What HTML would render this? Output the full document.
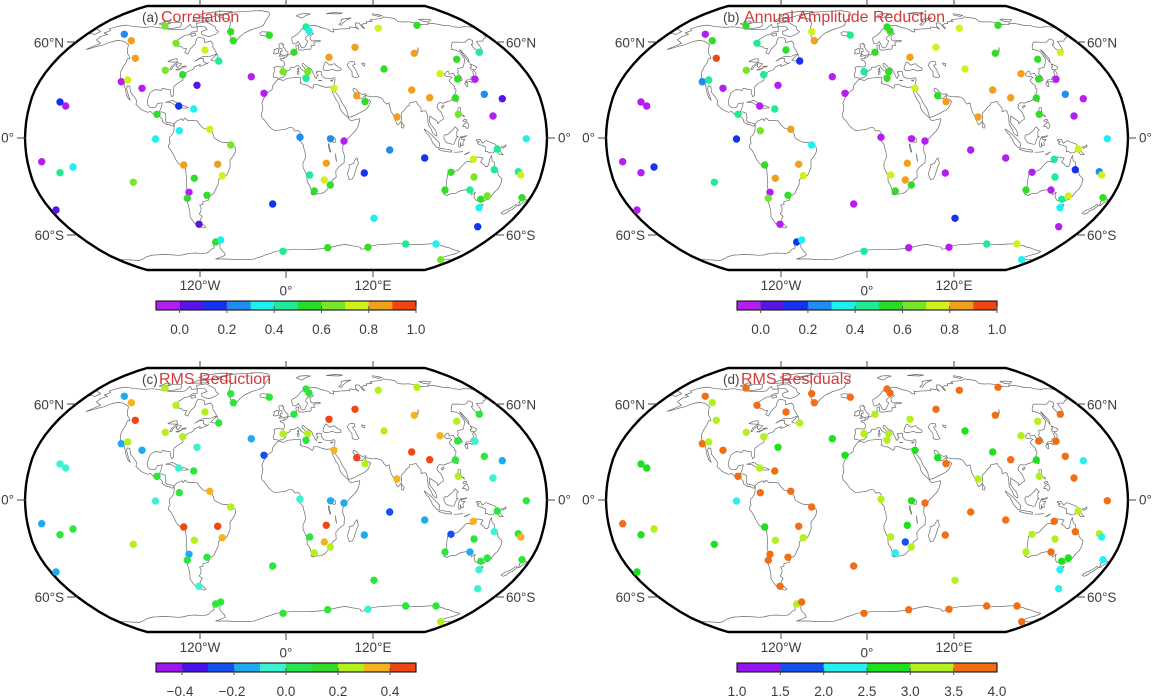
<!DOCTYPE html>
<html><head><meta charset="utf-8"><style>
html,body{margin:0;padding:0;background:#fff;width:1155px;height:700px;overflow:hidden}
svg{display:block}
text{font-family:"Liberation Sans",Arial,sans-serif;fill:#3c3c3c;font-size:13.5px}
.tt{font-size:16px;fill:#d23a3a}
.tl{font-size:13.5px;fill:#444}
.pa .P,.pb .P{fill:#b41ef0}.pa .I,.pb .I{fill:#5a14e6}.pa .B,.pb .B{fill:#1432f0}.pa .D,.pb .D{fill:#1e8cf0}
.pa .C,.pb .C{fill:#1ef0f0}.pa .T,.pb .T{fill:#1eeb96}.pa .G,.pb .G{fill:#32dc28}.pa .L,.pb .L{fill:#78e628}
.pa .Y,.pb .Y{fill:#d2f01e}.pa .O,.pb .O{fill:#f0a01e}.pa .R,.pb .R{fill:#f04614}
.pc .P{fill:#a014f0}.pc .I{fill:#4614e6}.pc .B{fill:#1450f0}.pc .D{fill:#1eaaf0}.pc .A{fill:#3cf0d2}
.pc .G{fill:#2de63c}.pc .L{fill:#b4f01e}.pc .O{fill:#f5b41e}.pc .R{fill:#f04614}
.pd .B{fill:#1450f0}.pd .C{fill:#28f0f0}.pd .G{fill:#1ee11e}.pd .L{fill:#b4f01e}.pd .O{fill:#f06e14}
</style></head><body>
<svg xmlns="http://www.w3.org/2000/svg" xmlns:xlink="http://www.w3.org/1999/xlink" width="1155" height="700" viewBox="0 0 1155 700">
<defs>
<path id="coast" fill="none" stroke="#6a6a6a" stroke-width="0.7" stroke-linejoin="round" d="M0,0"/>
<path id="frame" fill="none" stroke="#000" stroke-width="2.4" stroke-linejoin="round" d="M147.1,5.5 L424.9,5.5 L435.3,8.7 L448.2,13.5 L461.7,19.5 L473.6,26.2 L484.3,33.2 L494.4,40.5 L503.9,48.1 L512.5,56 L519.9,64 L526.5,72.1 L532,80.2 L536.6,88.4 L540,96.6 L542.4,104.8 L544.4,112.9 L545.8,121.1 L546.6,129.3 L547,137.5 L546.6,145.7 L545.8,153.9 L544.4,162.1 L542.4,170.2 L540,178.4 L536.6,186.6 L532,194.8 L526.5,202.9 L519.9,211 L512.5,219 L503.9,226.9 L494.4,234.5 L484.3,241.8 L473.6,248.8 L461.7,255.5 L448.2,261.5 L435.3,266.3 L424.9,269.5 L147.1,269.5 L136.7,266.3 L123.8,261.5 L110.3,255.5 L98.4,248.8 L87.7,241.8 L77.6,234.5 L68.1,226.9 L59.5,219 L52.1,211 L45.5,202.9 L40,194.8 L35.4,186.6 L32,178.4 L29.6,170.2 L27.6,162.1 L26.2,153.9 L25.4,145.7 L25,137.5 L25.4,129.3 L26.2,121.1 L27.6,112.9 L29.6,104.8 L32,96.6 L35.4,88.4 L40,80.2 L45.5,72.1 L52.1,64 L59.5,56 L68.1,48.1 L77.6,40.5 L87.7,33.2 L98.4,26.2 L110.3,19.5 L123.8,13.5 L136.7,8.7 Z"/>
<path id="ticks" fill="none" stroke="#444" stroke-width="1" d="M67,42H76 M17,138H25.5 M67,235H77 M495,42H504 M546.5,138H555 M495,235H504 M200,-1V6 M286,-1V6.5 M373,-1V6 M200,270V277 M286,270V278 M373,270V277"/>
</defs>

<!-- PANEL A -->
<g class="pa">
<use href="#coast" xlink:href="#coast"/>
<use href="#frame" xlink:href="#frame" transform="translate(0,0.5)"/>
<use href="#ticks" xlink:href="#ticks"/>
<text x="64" y="47.5" text-anchor="end">60°N</text><text x="14" y="142.5" text-anchor="end">0°</text><text x="64" y="240" text-anchor="end">60°S</text>
<text x="506" y="47.5">60°N</text><text x="558" y="142.5">0°</text><text x="506" y="240">60°S</text>
<text x="200" y="290" text-anchor="middle">120°W</text><text x="286" y="295.5" text-anchor="middle">0°</text><text x="373" y="290" text-anchor="middle">120°E</text>
<text class="tl" x="142" y="22">(a)</text><text class="tt" x="161" y="22">Correlation</text>
<circle class="D" cx="124.3" cy="34.3" r="3.7"/><circle class="O" cx="131.3" cy="40.7" r="3.7"/><circle class="O" cx="135.3" cy="58.3" r="3.7"/><circle class="L" cx="165" cy="26" r="3.7"/><circle class="L" cx="176" cy="43.3" r="3.7"/><circle class="Y" cx="205" cy="50" r="3.7"/><circle class="G" cx="230.7" cy="31.7" r="3.7"/><circle class="G" cx="233.3" cy="40.7" r="3.7"/><circle class="G" cx="269.3" cy="35.3" r="3.7"/><circle class="T" cx="218.7" cy="61" r="3.7"/><circle class="L" cx="165.3" cy="70.3" r="3.7"/><circle class="G" cx="182.7" cy="74.7" r="3.7"/><circle class="P" cx="121.3" cy="81.7" r="3.7"/><circle class="Y" cx="127.7" cy="80" r="3.7"/><circle class="P" cx="142" cy="88.3" r="3.7"/><circle class="I" cx="197" cy="85.3" r="3.7"/><circle class="P" cx="251.3" cy="76.7" r="3.7"/><circle class="P" cx="264" cy="93.3" r="3.7"/><circle class="L" cx="283" cy="71.7" r="3.7"/><circle class="B" cx="60" cy="102" r="3.7"/><circle class="P" cx="65.7" cy="106" r="3.7"/><circle class="B" cx="178.7" cy="106" r="3.7"/><circle class="C" cx="193.7" cy="109" r="3.7"/><circle class="G" cx="157" cy="114.3" r="3.7"/><circle class="C" cx="179.3" cy="130.7" r="3.7"/><circle class="Y" cx="209.7" cy="129.3" r="3.7"/><circle class="C" cx="155.5" cy="139" r="3.7"/><circle class="T" cx="306" cy="27" r="3.7"/><circle class="C" cx="309" cy="31" r="3.7"/><circle class="Y" cx="378.3" cy="28.3" r="3.7"/><circle class="G" cx="417" cy="25.3" r="3.7"/><circle class="O" cx="355" cy="47.3" r="3.7"/><circle class="O" cx="414.3" cy="53.3" r="3.7"/><circle class="G" cx="294" cy="52.3" r="3.7"/><circle class="O" cx="329" cy="57.3" r="3.7"/><circle class="T" cx="479.3" cy="52.3" r="3.7"/><circle class="G" cx="456.7" cy="59.3" r="3.7"/><circle class="G" cx="384" cy="69" r="3.7"/><circle class="Y" cx="440" cy="73.7" r="3.7"/><circle class="G" cx="457.7" cy="79" r="3.7"/><circle class="P" cx="475" cy="79.3" r="3.7"/><circle class="L" cx="307.7" cy="71.7" r="3.7"/><circle class="T" cx="306" cy="78.3" r="3.7"/><circle class="Y" cx="334" cy="88.3" r="3.7"/><circle class="O" cx="356.7" cy="95.7" r="3.7"/><circle class="G" cx="365" cy="101.7" r="3.7"/><circle class="O" cx="411.7" cy="90" r="3.7"/><circle class="O" cx="429.7" cy="97.7" r="3.7"/><circle class="G" cx="455.3" cy="98" r="3.7"/><circle class="D" cx="484.3" cy="94.3" r="3.7"/><circle class="I" cx="502.3" cy="98.7" r="3.7"/><circle class="O" cx="397" cy="117" r="3.7"/><circle class="L" cx="458.3" cy="114.3" r="3.7"/><circle class="P" cx="493" cy="116" r="3.7"/><circle class="C" cx="526.3" cy="138.8" r="3.7"/><circle class="D" cx="300" cy="137.2" r="3.7"/><circle class="D" cx="330.5" cy="138.8" r="3.7"/><circle class="P" cx="344" cy="141" r="3.7"/>
<circle class="L" cx="230.7" cy="145" r="3.7"/><circle class="P" cx="41.7" cy="161.7" r="3.7"/><circle class="T" cx="60" cy="172.7" r="3.7"/><circle class="C" cx="73" cy="167" r="3.7"/><circle class="L" cx="133.3" cy="182.3" r="3.7"/><circle class="O" cx="183.7" cy="165" r="3.7"/><circle class="O" cx="217.7" cy="164.3" r="3.7"/><circle class="G" cx="194.3" cy="178.3" r="3.7"/><circle class="Y" cx="222.3" cy="175.7" r="3.7"/><circle class="P" cx="189" cy="192.3" r="3.7"/><circle class="G" cx="187.3" cy="198.3" r="3.7"/><circle class="G" cx="207" cy="195.3" r="3.7"/><circle class="I" cx="56" cy="210" r="3.7"/><circle class="B" cx="272.7" cy="204" r="3.7"/><circle class="I" cx="199" cy="224.3" r="3.7"/><circle class="G" cx="215.7" cy="242" r="3.7"/><circle class="C" cx="220.7" cy="240" r="3.7"/><circle class="T" cx="283" cy="251.3" r="3.7"/><circle class="D" cx="389.7" cy="150" r="3.7"/><circle class="B" cx="424.7" cy="158" r="3.7"/><circle class="O" cx="326.3" cy="163.3" r="3.7"/><circle class="B" cx="364.3" cy="173" r="3.7"/><circle class="T" cx="309.7" cy="175" r="3.7"/><circle class="Y" cx="324.3" cy="180" r="3.7"/><circle class="G" cx="330.3" cy="185" r="3.7"/><circle class="G" cx="314.3" cy="191" r="3.7"/><circle class="T" cx="497.3" cy="149" r="3.7"/><circle class="Y" cx="473.3" cy="159.3" r="3.7"/><circle class="G" cx="451" cy="172.3" r="3.7"/><circle class="L" cx="474" cy="177" r="3.7"/><circle class="T" cx="494.3" cy="169.7" r="3.7"/><circle class="T" cx="518.3" cy="171.7" r="3.7"/><circle class="Y" cx="520.7" cy="175" r="3.7"/><circle class="G" cx="445" cy="190" r="3.7"/><circle class="T" cx="470" cy="190" r="3.7"/><circle class="G" cx="480.7" cy="199.3" r="3.7"/><circle class="L" cx="487.3" cy="196" r="3.7"/><circle class="G" cx="522" cy="197.7" r="3.7"/><circle class="C" cx="479" cy="207.7" r="3.7"/><circle class="B" cx="477.7" cy="226.7" r="3.7"/><circle class="C" cx="374" cy="218.3" r="3.7"/><circle class="G" cx="327.7" cy="247.7" r="3.7"/><circle class="G" cx="368" cy="247.3" r="3.7"/><circle class="T" cx="405.7" cy="244" r="3.7"/><circle class="C" cx="436" cy="244" r="3.7"/><circle class="L" cx="440.7" cy="259.7" r="3.7"/>
<g transform="translate(0,301)">
<rect x="156" y="0" width="24.1" height="9" fill="#b41ef0"/><rect x="179.64" y="0" width="24.1" height="9" fill="#5a14e6"/><rect x="203.27" y="0" width="24.1" height="9" fill="#1432f0"/><rect x="226.91" y="0" width="24.1" height="9" fill="#1e8cf0"/><rect x="250.55" y="0" width="24.1" height="9" fill="#1ef0f0"/><rect x="274.18" y="0" width="24.1" height="9" fill="#1eeb96"/><rect x="297.82" y="0" width="24.1" height="9" fill="#28dc28"/><rect x="321.45" y="0" width="24.1" height="9" fill="#78e628"/><rect x="345.09" y="0" width="24.1" height="9" fill="#d2f01e"/><rect x="368.73" y="0" width="24.1" height="9" fill="#f0a01e"/><rect x="392.36" y="0" width="23.64" height="9" fill="#f04614"/>
<rect x="156" y="0" width="260" height="9" fill="none" stroke="#111" stroke-width="1.1"/>
<path d="M179.6,5V12M226.9,5V12M274.2,5V12M321.5,5V12M368.7,5V12M416,5V12" stroke="#555" stroke-width="1"/>
<text x="179.6" y="33" text-anchor="middle">0.0</text><text x="226.9" y="33" text-anchor="middle">0.2</text><text x="274.2" y="33" text-anchor="middle">0.4</text><text x="321.5" y="33" text-anchor="middle">0.6</text><text x="368.7" y="33" text-anchor="middle">0.8</text><text x="416" y="33" text-anchor="middle">1.0</text>
</g>
</g>

<!-- PANEL B -->
<g class="pb" transform="translate(581,0)">
<use href="#coast" xlink:href="#coast"/>
<use href="#frame" xlink:href="#frame" transform="translate(0,0.5)"/>
<use href="#ticks" xlink:href="#ticks"/>
<text x="64" y="47.5" text-anchor="end">60°N</text><text x="14" y="142.5" text-anchor="end">0°</text><text x="64" y="240" text-anchor="end">60°S</text>
<text x="506" y="47.5">60°N</text><text x="558" y="142.5">0°</text><text x="506" y="240">60°S</text>
<text x="200" y="290" text-anchor="middle">120°W</text><text x="286" y="295.5" text-anchor="middle">0°</text><text x="373" y="290" text-anchor="middle">120°E</text>
<text class="tl" x="142" y="22">(b)</text><text class="tt" x="163" y="22">Annual Amplitude Reduction</text>
<circle class="P" cx="124.3" cy="34.3" r="3.7"/><circle class="G" cx="131.3" cy="40.7" r="3.7"/><circle class="R" cx="135.3" cy="58.3" r="3.7"/><circle class="G" cx="165" cy="26" r="3.7"/><circle class="T" cx="176" cy="43.3" r="3.7"/><circle class="G" cx="205" cy="50" r="3.7"/><circle class="Y" cx="230.7" cy="31.7" r="3.7"/><circle class="O" cx="233.3" cy="40.7" r="3.7"/><circle class="T" cx="269.3" cy="35.3" r="3.7"/><circle class="B" cx="218.7" cy="61" r="3.7"/><circle class="L" cx="165.3" cy="70.3" r="3.7"/><circle class="T" cx="182.7" cy="74.7" r="3.7"/><circle class="D" cx="121.3" cy="81.7" r="3.7"/><circle class="T" cx="127.7" cy="80" r="3.7"/><circle class="P" cx="142" cy="88.3" r="3.7"/><circle class="P" cx="197" cy="85.3" r="3.7"/><circle class="P" cx="251.3" cy="76.7" r="3.7"/><circle class="P" cx="264" cy="93.3" r="3.7"/><circle class="T" cx="283" cy="71.7" r="3.7"/><circle class="P" cx="60" cy="102" r="3.7"/><circle class="P" cx="65.7" cy="106" r="3.7"/><circle class="P" cx="178.7" cy="106" r="3.7"/><circle class="T" cx="193.7" cy="109" r="3.7"/><circle class="T" cx="157" cy="114.3" r="3.7"/><circle class="L" cx="179.3" cy="130.7" r="3.7"/><circle class="O" cx="209.7" cy="129.3" r="3.7"/><circle class="B" cx="155.5" cy="139" r="3.7"/><circle class="G" cx="306" cy="27" r="3.7"/><circle class="G" cx="309" cy="31" r="3.7"/><circle class="Y" cx="378.3" cy="28.3" r="3.7"/><circle class="G" cx="417" cy="25.3" r="3.7"/><circle class="Y" cx="355" cy="47.3" r="3.7"/><circle class="G" cx="414.3" cy="53.3" r="3.7"/><circle class="G" cx="294" cy="52.3" r="3.7"/><circle class="O" cx="329" cy="57.3" r="3.7"/><circle class="Y" cx="479.3" cy="52.3" r="3.7"/><circle class="G" cx="456.7" cy="59.3" r="3.7"/><circle class="Y" cx="384" cy="69" r="3.7"/><circle class="O" cx="440" cy="73.7" r="3.7"/><circle class="G" cx="457.7" cy="79" r="3.7"/><circle class="P" cx="475" cy="79.3" r="3.7"/><circle class="G" cx="307.7" cy="71.7" r="3.7"/><circle class="G" cx="306" cy="78.3" r="3.7"/><circle class="Y" cx="334" cy="88.3" r="3.7"/><circle class="G" cx="356.7" cy="95.7" r="3.7"/><circle class="O" cx="365" cy="101.7" r="3.7"/><circle class="O" cx="411.7" cy="90" r="3.7"/><circle class="O" cx="429.7" cy="97.7" r="3.7"/><circle class="G" cx="455.3" cy="98" r="3.7"/><circle class="D" cx="484.3" cy="94.3" r="3.7"/><circle class="P" cx="502.3" cy="98.7" r="3.7"/><circle class="O" cx="397" cy="117" r="3.7"/><circle class="G" cx="458.3" cy="114.3" r="3.7"/><circle class="P" cx="493" cy="116" r="3.7"/><circle class="C" cx="526.3" cy="138.8" r="3.7"/><circle class="P" cx="300" cy="137.2" r="3.7"/><circle class="P" cx="330.5" cy="138.8" r="3.7"/><circle class="P" cx="344" cy="141" r="3.7"/>
<circle class="C" cx="230.7" cy="145" r="3.7"/><circle class="P" cx="41.7" cy="161.7" r="3.7"/><circle class="P" cx="60" cy="172.7" r="3.7"/><circle class="B" cx="73" cy="167" r="3.7"/><circle class="T" cx="133.3" cy="182.3" r="3.7"/><circle class="G" cx="183.7" cy="165" r="3.7"/><circle class="O" cx="217.7" cy="164.3" r="3.7"/><circle class="O" cx="194.3" cy="178.3" r="3.7"/><circle class="Y" cx="222.3" cy="175.7" r="3.7"/><circle class="P" cx="189" cy="192.3" r="3.7"/><circle class="L" cx="187.3" cy="198.3" r="3.7"/><circle class="G" cx="207" cy="195.3" r="3.7"/><circle class="P" cx="56" cy="210" r="3.7"/><circle class="P" cx="272.7" cy="204" r="3.7"/><circle class="P" cx="199" cy="224.3" r="3.7"/><circle class="B" cx="215.7" cy="242" r="3.7"/><circle class="C" cx="220.7" cy="240" r="3.7"/><circle class="T" cx="283" cy="251.3" r="3.7"/><circle class="P" cx="389.7" cy="150" r="3.7"/><circle class="P" cx="424.7" cy="158" r="3.7"/><circle class="O" cx="326.3" cy="163.3" r="3.7"/><circle class="P" cx="364.3" cy="173" r="3.7"/><circle class="Y" cx="309.7" cy="175" r="3.7"/><circle class="O" cx="324.3" cy="180" r="3.7"/><circle class="G" cx="330.3" cy="185" r="3.7"/><circle class="G" cx="314.3" cy="191" r="3.7"/><circle class="Y" cx="497.3" cy="149" r="3.7"/><circle class="T" cx="473.3" cy="159.3" r="3.7"/><circle class="P" cx="451" cy="172.3" r="3.7"/><circle class="T" cx="474" cy="177" r="3.7"/><circle class="B" cx="494.3" cy="169.7" r="3.7"/><circle class="D" cx="518.3" cy="171.7" r="3.7"/><circle class="Y" cx="520.7" cy="175" r="3.7"/><circle class="G" cx="445" cy="190" r="3.7"/><circle class="P" cx="470" cy="190" r="3.7"/><circle class="T" cx="480.7" cy="199.3" r="3.7"/><circle class="Y" cx="487.3" cy="196" r="3.7"/><circle class="G" cx="522" cy="197.7" r="3.7"/><circle class="C" cx="479" cy="207.7" r="3.7"/><circle class="P" cx="477.7" cy="226.7" r="3.7"/><circle class="B" cx="374" cy="218.3" r="3.7"/><circle class="P" cx="327.7" cy="247.7" r="3.7"/><circle class="P" cx="368" cy="247.3" r="3.7"/><circle class="T" cx="405.7" cy="244" r="3.7"/><circle class="Y" cx="436" cy="244" r="3.7"/><circle class="C" cx="440.7" cy="259.7" r="3.7"/>
<g transform="translate(0,301)">
<rect x="156" y="0" width="24.1" height="9" fill="#b41ef0"/><rect x="179.64" y="0" width="24.1" height="9" fill="#5a14e6"/><rect x="203.27" y="0" width="24.1" height="9" fill="#1432f0"/><rect x="226.91" y="0" width="24.1" height="9" fill="#1e8cf0"/><rect x="250.55" y="0" width="24.1" height="9" fill="#1ef0f0"/><rect x="274.18" y="0" width="24.1" height="9" fill="#1eeb96"/><rect x="297.82" y="0" width="24.1" height="9" fill="#28dc28"/><rect x="321.45" y="0" width="24.1" height="9" fill="#78e628"/><rect x="345.09" y="0" width="24.1" height="9" fill="#d2f01e"/><rect x="368.73" y="0" width="24.1" height="9" fill="#f0a01e"/><rect x="392.36" y="0" width="23.64" height="9" fill="#f04614"/>
<rect x="156" y="0" width="260" height="9" fill="none" stroke="#111" stroke-width="1.1"/>
<path d="M179.6,5V12M226.9,5V12M274.2,5V12M321.5,5V12M368.7,5V12M416,5V12" stroke="#555" stroke-width="1"/>
<text x="179.6" y="33" text-anchor="middle">0.0</text><text x="226.9" y="33" text-anchor="middle">0.2</text><text x="274.2" y="33" text-anchor="middle">0.4</text><text x="321.5" y="33" text-anchor="middle">0.6</text><text x="368.7" y="33" text-anchor="middle">0.8</text><text x="416" y="33" text-anchor="middle">1.0</text>
</g>
</g>

<!-- PANEL C -->
<g class="pc" transform="translate(0,362)">
<use href="#coast" xlink:href="#coast"/>
<use href="#frame" xlink:href="#frame" transform="translate(0,0.5)"/>
<use href="#ticks" xlink:href="#ticks"/>
<text x="64" y="47.5" text-anchor="end">60°N</text><text x="14" y="142.5" text-anchor="end">0°</text><text x="64" y="240" text-anchor="end">60°S</text>
<text x="506" y="47.5">60°N</text><text x="558" y="142.5">0°</text><text x="506" y="240">60°S</text>
<text x="200" y="290" text-anchor="middle">120°W</text><text x="286" y="295.5" text-anchor="middle">0°</text><text x="373" y="290" text-anchor="middle">120°E</text>
<text class="tl" x="142" y="22">(c)</text><text class="tt" x="159" y="22">RMS Reduction</text>
<circle class="D" cx="124.3" cy="34.3" r="3.7"/><circle class="O" cx="131.3" cy="40.7" r="3.7"/><circle class="R" cx="135.3" cy="58.3" r="3.7"/><circle class="L" cx="165" cy="26" r="3.7"/><circle class="L" cx="176" cy="43.3" r="3.7"/><circle class="L" cx="205" cy="50" r="3.7"/><circle class="G" cx="230.7" cy="31.7" r="3.7"/><circle class="G" cx="233.3" cy="40.7" r="3.7"/><circle class="G" cx="269.3" cy="35.3" r="3.7"/><circle class="G" cx="218.7" cy="61" r="3.7"/><circle class="L" cx="165.3" cy="70.3" r="3.7"/><circle class="L" cx="182.7" cy="74.7" r="3.7"/><circle class="D" cx="121.3" cy="81.7" r="3.7"/><circle class="L" cx="127.7" cy="80" r="3.7"/><circle class="D" cx="142" cy="88.3" r="3.7"/><circle class="A" cx="197" cy="85.3" r="3.7"/><circle class="D" cx="251.3" cy="76.7" r="3.7"/><circle class="B" cx="264" cy="93.3" r="3.7"/><circle class="L" cx="283" cy="71.7" r="3.7"/><circle class="A" cx="60" cy="102" r="3.7"/><circle class="A" cx="65.7" cy="106" r="3.7"/><circle class="A" cx="178.7" cy="106" r="3.7"/><circle class="G" cx="193.7" cy="109" r="3.7"/><circle class="G" cx="157" cy="114.3" r="3.7"/><circle class="G" cx="179.3" cy="130.7" r="3.7"/><circle class="O" cx="209.7" cy="129.3" r="3.7"/><circle class="A" cx="155.5" cy="139" r="3.7"/><circle class="G" cx="306" cy="27" r="3.7"/><circle class="G" cx="309" cy="31" r="3.7"/><circle class="L" cx="378.3" cy="28.3" r="3.7"/><circle class="L" cx="417" cy="25.3" r="3.7"/><circle class="R" cx="355" cy="47.3" r="3.7"/><circle class="O" cx="414.3" cy="53.3" r="3.7"/><circle class="G" cx="294" cy="52.3" r="3.7"/><circle class="R" cx="329" cy="57.3" r="3.7"/><circle class="G" cx="479.3" cy="52.3" r="3.7"/><circle class="L" cx="456.7" cy="59.3" r="3.7"/><circle class="L" cx="384" cy="69" r="3.7"/><circle class="O" cx="440" cy="73.7" r="3.7"/><circle class="G" cx="457.7" cy="79" r="3.7"/><circle class="A" cx="475" cy="79.3" r="3.7"/><circle class="L" cx="307.7" cy="71.7" r="3.7"/><circle class="G" cx="306" cy="78.3" r="3.7"/><circle class="O" cx="334" cy="88.3" r="3.7"/><circle class="R" cx="356.7" cy="95.7" r="3.7"/><circle class="L" cx="365" cy="101.7" r="3.7"/><circle class="R" cx="411.7" cy="90" r="3.7"/><circle class="R" cx="429.7" cy="97.7" r="3.7"/><circle class="G" cx="455.3" cy="98" r="3.7"/><circle class="G" cx="484.3" cy="94.3" r="3.7"/><circle class="D" cx="502.3" cy="98.7" r="3.7"/><circle class="O" cx="397" cy="117" r="3.7"/><circle class="L" cx="458.3" cy="114.3" r="3.7"/><circle class="A" cx="493" cy="116" r="3.7"/><circle class="G" cx="526.3" cy="138.8" r="3.7"/><circle class="A" cx="300" cy="137.2" r="3.7"/><circle class="D" cx="330.5" cy="138.8" r="3.7"/><circle class="D" cx="344" cy="141" r="3.7"/>
<circle class="L" cx="230.7" cy="145" r="3.7"/><circle class="D" cx="41.7" cy="161.7" r="3.7"/><circle class="G" cx="60" cy="172.7" r="3.7"/><circle class="G" cx="73" cy="167" r="3.7"/><circle class="L" cx="133.3" cy="182.3" r="3.7"/><circle class="R" cx="183.7" cy="165" r="3.7"/><circle class="R" cx="217.7" cy="164.3" r="3.7"/><circle class="L" cx="194.3" cy="178.3" r="3.7"/><circle class="O" cx="222.3" cy="175.7" r="3.7"/><circle class="D" cx="189" cy="192.3" r="3.7"/><circle class="G" cx="187.3" cy="198.3" r="3.7"/><circle class="G" cx="207" cy="195.3" r="3.7"/><circle class="D" cx="56" cy="210" r="3.7"/><circle class="G" cx="272.7" cy="204" r="3.7"/><circle class="A" cx="199" cy="224.3" r="3.7"/><circle class="G" cx="215.7" cy="242" r="3.7"/><circle class="G" cx="220.7" cy="240" r="3.7"/><circle class="G" cx="283" cy="251.3" r="3.7"/><circle class="B" cx="389.7" cy="150" r="3.7"/><circle class="D" cx="424.7" cy="158" r="3.7"/><circle class="R" cx="326.3" cy="163.3" r="3.7"/><circle class="D" cx="364.3" cy="173" r="3.7"/><circle class="G" cx="309.7" cy="175" r="3.7"/><circle class="O" cx="324.3" cy="180" r="3.7"/><circle class="L" cx="330.3" cy="185" r="3.7"/><circle class="L" cx="314.3" cy="191" r="3.7"/><circle class="G" cx="497.3" cy="149" r="3.7"/><circle class="O" cx="473.3" cy="159.3" r="3.7"/><circle class="B" cx="451" cy="172.3" r="3.7"/><circle class="G" cx="474" cy="177" r="3.7"/><circle class="A" cx="494.3" cy="169.7" r="3.7"/><circle class="G" cx="518.3" cy="171.7" r="3.7"/><circle class="O" cx="520.7" cy="175" r="3.7"/><circle class="G" cx="445" cy="190" r="3.7"/><circle class="D" cx="470" cy="190" r="3.7"/><circle class="G" cx="480.7" cy="199.3" r="3.7"/><circle class="G" cx="487.3" cy="196" r="3.7"/><circle class="G" cx="522" cy="197.7" r="3.7"/><circle class="A" cx="479" cy="207.7" r="3.7"/><circle class="A" cx="477.7" cy="226.7" r="3.7"/><circle class="G" cx="374" cy="218.3" r="3.7"/><circle class="G" cx="327.7" cy="247.7" r="3.7"/><circle class="A" cx="368" cy="247.3" r="3.7"/><circle class="G" cx="405.7" cy="244" r="3.7"/><circle class="G" cx="436" cy="244" r="3.7"/><circle class="L" cx="440.7" cy="259.7" r="3.7"/>
<g transform="translate(0,301)">
<rect x="156" y="0" width="26.5" height="9" fill="#a014f0"/><rect x="182" y="0" width="26.5" height="9" fill="#4614e6"/><rect x="208" y="0" width="26.5" height="9" fill="#1450f0"/><rect x="234" y="0" width="26.5" height="9" fill="#1eaaf0"/><rect x="260" y="0" width="26.5" height="9" fill="#3cf0d2"/><rect x="286" y="0" width="26.5" height="9" fill="#28e650"/><rect x="312" y="0" width="26.5" height="9" fill="#32dc28"/><rect x="338" y="0" width="26.5" height="9" fill="#b4f01e"/><rect x="364" y="0" width="26.5" height="9" fill="#f5b41e"/><rect x="390" y="0" width="26" height="9" fill="#f04614"/>
<rect x="156" y="0" width="260" height="9" fill="none" stroke="#111" stroke-width="1.1"/>
<path d="M182,5V12M234,5V12M286,5V12M338,5V12M390,5V12" stroke="#555" stroke-width="1"/>
<text x="180" y="33" text-anchor="middle">−0.4</text><text x="232" y="33" text-anchor="middle">−0.2</text><text x="286" y="33" text-anchor="middle">0.0</text><text x="338" y="33" text-anchor="middle">0.2</text><text x="390" y="33" text-anchor="middle">0.4</text>
</g>
</g>

<!-- PANEL D -->
<g class="pd" transform="translate(581,362)">
<use href="#coast" xlink:href="#coast"/>
<use href="#frame" xlink:href="#frame" transform="translate(0,0.5)"/>
<use href="#ticks" xlink:href="#ticks"/>
<text x="64" y="47.5" text-anchor="end">60°N</text><text x="14" y="142.5" text-anchor="end">0°</text><text x="64" y="240" text-anchor="end">60°S</text>
<text x="506" y="47.5">60°N</text><text x="558" y="142.5">0°</text><text x="506" y="240">60°S</text>
<text x="200" y="290" text-anchor="middle">120°W</text><text x="286" y="295.5" text-anchor="middle">0°</text><text x="373" y="290" text-anchor="middle">120°E</text>
<text class="tl" x="142" y="22">(d)</text><text class="tt" x="160" y="22">RMS Residuals</text>
<circle class="O" cx="124.3" cy="34.3" r="3.7"/><circle class="L" cx="131.3" cy="40.7" r="3.7"/><circle class="L" cx="135.3" cy="58.3" r="3.7"/><circle class="O" cx="165" cy="26" r="3.7"/><circle class="O" cx="176" cy="43.3" r="3.7"/><circle class="O" cx="205" cy="50" r="3.7"/><circle class="O" cx="230.7" cy="31.7" r="3.7"/><circle class="O" cx="233.3" cy="40.7" r="3.7"/><circle class="O" cx="269.3" cy="35.3" r="3.7"/><circle class="L" cx="218.7" cy="61" r="3.7"/><circle class="L" cx="165.3" cy="70.3" r="3.7"/><circle class="L" cx="182.7" cy="74.7" r="3.7"/><circle class="O" cx="121.3" cy="81.7" r="3.7"/><circle class="L" cx="127.7" cy="80" r="3.7"/><circle class="O" cx="142" cy="88.3" r="3.7"/><circle class="G" cx="197" cy="85.3" r="3.7"/><circle class="G" cx="251.3" cy="76.7" r="3.7"/><circle class="G" cx="264" cy="93.3" r="3.7"/><circle class="L" cx="283" cy="71.7" r="3.7"/><circle class="G" cx="60" cy="102" r="3.7"/><circle class="G" cx="65.7" cy="106" r="3.7"/><circle class="L" cx="178.7" cy="106" r="3.7"/><circle class="O" cx="193.7" cy="109" r="3.7"/><circle class="O" cx="157" cy="114.3" r="3.7"/><circle class="O" cx="179.3" cy="130.7" r="3.7"/><circle class="O" cx="209.7" cy="129.3" r="3.7"/><circle class="C" cx="155.5" cy="139" r="3.7"/><circle class="O" cx="306" cy="27" r="3.7"/><circle class="O" cx="309" cy="31" r="3.7"/><circle class="O" cx="378.3" cy="28.3" r="3.7"/><circle class="O" cx="417" cy="25.3" r="3.7"/><circle class="O" cx="355" cy="47.3" r="3.7"/><circle class="O" cx="414.3" cy="53.3" r="3.7"/><circle class="L" cx="294" cy="52.3" r="3.7"/><circle class="L" cx="329" cy="57.3" r="3.7"/><circle class="O" cx="479.3" cy="52.3" r="3.7"/><circle class="L" cx="456.7" cy="59.3" r="3.7"/><circle class="G" cx="384" cy="69" r="3.7"/><circle class="L" cx="440" cy="73.7" r="3.7"/><circle class="O" cx="457.7" cy="79" r="3.7"/><circle class="O" cx="475" cy="79.3" r="3.7"/><circle class="L" cx="307.7" cy="71.7" r="3.7"/><circle class="L" cx="306" cy="78.3" r="3.7"/><circle class="G" cx="334" cy="88.3" r="3.7"/><circle class="G" cx="356.7" cy="95.7" r="3.7"/><circle class="O" cx="365" cy="101.7" r="3.7"/><circle class="G" cx="411.7" cy="90" r="3.7"/><circle class="O" cx="429.7" cy="97.7" r="3.7"/><circle class="G" cx="455.3" cy="98" r="3.7"/><circle class="O" cx="484.3" cy="94.3" r="3.7"/><circle class="C" cx="502.3" cy="98.7" r="3.7"/><circle class="L" cx="397" cy="117" r="3.7"/><circle class="L" cx="458.3" cy="114.3" r="3.7"/><circle class="O" cx="493" cy="116" r="3.7"/><circle class="O" cx="526.3" cy="138.8" r="3.7"/><circle class="L" cx="300" cy="137.2" r="3.7"/><circle class="G" cx="330.5" cy="138.8" r="3.7"/><circle class="O" cx="344" cy="141" r="3.7"/>
<circle class="O" cx="230.7" cy="145" r="3.7"/><circle class="O" cx="41.7" cy="161.7" r="3.7"/><circle class="G" cx="60" cy="172.7" r="3.7"/><circle class="L" cx="73" cy="167" r="3.7"/><circle class="G" cx="133.3" cy="182.3" r="3.7"/><circle class="G" cx="183.7" cy="165" r="3.7"/><circle class="O" cx="217.7" cy="164.3" r="3.7"/><circle class="L" cx="194.3" cy="178.3" r="3.7"/><circle class="L" cx="222.3" cy="175.7" r="3.7"/><circle class="O" cx="189" cy="192.3" r="3.7"/><circle class="O" cx="187.3" cy="198.3" r="3.7"/><circle class="O" cx="207" cy="195.3" r="3.7"/><circle class="G" cx="56" cy="210" r="3.7"/><circle class="O" cx="272.7" cy="204" r="3.7"/><circle class="O" cx="199" cy="224.3" r="3.7"/><circle class="L" cx="215.7" cy="242" r="3.7"/><circle class="O" cx="220.7" cy="240" r="3.7"/><circle class="O" cx="283" cy="251.3" r="3.7"/><circle class="O" cx="389.7" cy="150" r="3.7"/><circle class="O" cx="424.7" cy="158" r="3.7"/><circle class="G" cx="326.3" cy="163.3" r="3.7"/><circle class="O" cx="364.3" cy="173" r="3.7"/><circle class="L" cx="309.7" cy="175" r="3.7"/><circle class="B" cx="324.3" cy="180" r="3.7"/><circle class="L" cx="330.3" cy="185" r="3.7"/><circle class="C" cx="314.3" cy="191" r="3.7"/><circle class="L" cx="497.3" cy="149" r="3.7"/><circle class="O" cx="473.3" cy="159.3" r="3.7"/><circle class="L" cx="451" cy="172.3" r="3.7"/><circle class="L" cx="474" cy="177" r="3.7"/><circle class="O" cx="494.3" cy="169.7" r="3.7"/><circle class="L" cx="518.3" cy="171.7" r="3.7"/><circle class="C" cx="520.7" cy="175" r="3.7"/><circle class="L" cx="445" cy="190" r="3.7"/><circle class="O" cx="470" cy="190" r="3.7"/><circle class="G" cx="480.7" cy="199.3" r="3.7"/><circle class="G" cx="487.3" cy="196" r="3.7"/><circle class="C" cx="522" cy="197.7" r="3.7"/><circle class="C" cx="479" cy="207.7" r="3.7"/><circle class="C" cx="477.7" cy="226.7" r="3.7"/><circle class="L" cx="374" cy="218.3" r="3.7"/><circle class="O" cx="327.7" cy="247.7" r="3.7"/><circle class="O" cx="368" cy="247.3" r="3.7"/><circle class="O" cx="405.7" cy="244" r="3.7"/><circle class="O" cx="436" cy="244" r="3.7"/><circle class="O" cx="440.7" cy="259.7" r="3.7"/>
<g transform="translate(0,301)">
<rect x="156" y="0" width="43.8" height="9" fill="#9614f0"/><rect x="199.33" y="0" width="43.8" height="9" fill="#1450f0"/><rect x="242.67" y="0" width="43.8" height="9" fill="#28f0f0"/><rect x="286" y="0" width="43.8" height="9" fill="#1ee11e"/><rect x="329.33" y="0" width="43.8" height="9" fill="#b4f01e"/><rect x="372.67" y="0" width="43.33" height="9" fill="#f06e14"/>
<rect x="156" y="0" width="260" height="9" fill="none" stroke="#111" stroke-width="1.1"/>
<path d="M199.3,5V12M242.7,5V12M286,5V12M329.3,5V12M372.7,5V12" stroke="#555" stroke-width="1"/>
<text x="156" y="33" text-anchor="middle">1.0</text><text x="199.3" y="33" text-anchor="middle">1.5</text><text x="242.7" y="33" text-anchor="middle">2.0</text><text x="286" y="33" text-anchor="middle">2.5</text><text x="329.3" y="33" text-anchor="middle">3.0</text><text x="372.7" y="33" text-anchor="middle">3.5</text><text x="416" y="33" text-anchor="middle">4.0</text>
</g>
</g>
</svg>
<script>
(function(){
var XT=[1,0.9986,0.9954,0.99,0.9822,0.973,0.96,0.9427,0.9216,0.8962,0.8679,0.835,0.7986,0.7597,0.7186,0.6732,0.6213,0.5722,0.5322];
var YT=[0,0.062,0.124,0.186,0.248,0.31,0.372,0.434,0.4958,0.5571,0.6176,0.6769,0.7346,0.7903,0.8435,0.8936,0.9394,0.9761,1];
function P(lo,la){var a=Math.min(Math.abs(la),90)/5,i=Math.min(Math.floor(a),17),f=a-i;
var X=XT[i]+(XT[i+1]-XT[i])*f,Y=YT[i]+(YT[i+1]-YT[i])*f;
return [286+261*X*lo/180,138-(la<0?-1:1)*132*Y];}
var D=[
[-156,71.2,-145,70,-135,69.5,-128,70,-117,68.8,-108,68,-98,67.8,-95,68.5,-94,71.8,-90,69.5,-85,69.8,-82,66.5,-86,66.3,-88,64.2,-90.5,64,-94,61,-94,59,-92,57,-88,56.5,-85,55.2,-82,55,-82,52.5,-79,51.5,-79,54.5,-77,58,-78,60.5,-78,62.3,-75,62.3,-72,61.8,-69.5,59,-65,60,-62,58,-61,56,-57,53,-56,51.5,-60,50.2,-66,50,-69,48.5,-71,47,-68,48.8,-65,48.8,-64.5,47,-61,45.5,-60,46.2,-63.5,44.5,-66,43.8,-66,45,-67.5,44.5,-70,43.5,-70.5,41.8,-74,40.5,-75.5,38.5,-76,37,-75.5,35.3,-77,34.5,-79,33.3,-81,31.5,-80.5,28.5,-80,26,-81,25.2,-82.6,27.5,-83,29.5,-85,29.7,-89,30.3,-89.5,29,-91,29.3,-94,29.6,-97,27.8,-97.5,25,-97.8,22,-97,20,-95,18.6,-92,18.5,-91,19.5,-90.5,21,-87,21.5,-87.5,18.5,-88.3,16,-86,15.8,-84,15,-83.4,12,-83.8,11,-82.5,9.5,-80,9.3,-77.5,8.6,-78,7.3,-80,7.5,-80.5,8.2,-82.5,8.2,-85.7,10,-85.7,11.2,-87.5,13,-91.5,14,-94.5,16.2,-96.5,15.7,-101,17.3,-105.5,20.5,-105.3,22.8,-108,25.5,-111,27.8,-112.8,31.5,-114.8,31.8,-114.5,30,-112,26,-110,23,-112,24.5,-114.5,28,-115.8,30.5,-117.2,32.6,-118.5,34,-120.6,34.6,-122.5,37.5,-124,40.5,-124.2,43,-124,46.3,-124.7,48.4,-123,48.8,-125,50.3,-128,52,-130.5,54.5,-133,57.5,-137,59,-140,59.8,-145,60.4,-148,60,-151,59.2,-154,57.5,-158,56.5,-162,55,-164.5,54.5,-158,58.5,-162,59.8,-165,60.8,-164.8,63.2,-161,64.5,-166,65.5,-163,67.2,-166.5,68.4,-162,70.2,-156,71.2],
[-73,78,-66,80.5,-60,82,-45,82.8,-30,83.5,-20,82,-18,80,-19,77,-21,74,-22,71,-26,69.5,-32,68,-38,65.5,-41,63,-43,60,-46,61,-49,62.5,-51,64.5,-53,67,-54,70,-55,72.5,-58,75.5,-65,76.5,-73,78],
[-62,66.5,-64,64.5,-68,63,-72,63.5,-76,64.5,-78,66.5,-74,68,-78,70,-85,70,-89,72.5,-80,73.7,-73,71.5,-68,70,-65,67.5,-62,66.5],
[-80,77,-75,79,-65,81,-62,82.5,-75,83,-90,81,-95,79,-88,77,-80,77],
[-95,74,-80,74.5,-80,76,-92,76.5,-95,74],
[-118,71,-114,73,-104,73,-101,70,-106,69,-113,68.5,-118,71],
[-125,72,-120,74.5,-116,73.5,-119,71.5,-125,72],
[-86.5,64.5,-83,65.5,-81,64,-84,63.2,-86.5,64.5],
[-59,47.6,-53,46.7,-52.8,48,-55.5,51.6,-59,47.6],
[-85,21.8,-80,23,-74.2,20.2,-77.5,19.9,-81,21.7,-85,21.8],
[-74.5,18.4,-72,19.9,-68.4,18.6,-70,18.2,-74.5,18.4],
[-92,46.7,-90,47.8,-88.5,48.3,-86,48.7,-84.7,47,-84.5,46.5,-87,46.5,-90,46.6,-92,46.7],
[-87.8,41.7,-87.5,44,-85,46,-84,46,-82.5,45.8,-80.5,45.5,-81.5,44,-82.5,43,-83.8,43.8,-84,45.3,-86.3,43.5,-86.5,42,-87.8,41.7],
[-83.4,41.7,-79,42.8,-81.5,41.5,-83.4,41.7],
[-79.8,43.3,-76.3,43.5,-76.5,44.2,-79.5,43.7,-79.8,43.3],
[-77.4,8.7,-75.5,10.5,-72,11.8,-71.5,10.5,-70,12.2,-68,10.6,-64,10.6,-61.5,10.5,-60,8.5,-57,6,-54,5.7,-51.5,4.2,-50,1.8,-49.5,0,-48,-1,-44.5,-2.5,-40,-2.8,-37,-4.8,-35.2,-5.5,-34.8,-7.5,-35.5,-9.5,-37.5,-12,-39,-13.5,-39,-17.5,-40.5,-20.5,-42,-23,-44.5,-23.3,-48,-25.5,-48.6,-28.5,-50.5,-31,-52.5,-33.8,-54,-34.8,-56.5,-34.8,-58.4,-34.2,-57.2,-35.5,-56.7,-36.5,-57.5,-38,-62,-39,-62.3,-40.5,-65,-41,-64.5,-42.5,-65.5,-45,-67.5,-46.5,-65.8,-48,-68.5,-50.5,-69,-52.2,-68.3,-52.5,-66,-54.8,-68,-55.5,-71,-54.5,-74,-52.5,-75.5,-48.5,-74,-45,-73.5,-41.5,-73.7,-37.5,-72.5,-35,-71.5,-32,-71.5,-28.5,-70.5,-25,-70.3,-18.5,-71.5,-17.5,-75,-15.5,-76.5,-13.5,-78,-10,-79.8,-7.2,-81.2,-6,-81,-4.3,-80,-3,-80.5,-1,-80,1,-79,1.5,-77.5,3.8,-77.3,6.5,-77.4,8.7],
[32.6,29.9,33.5,27.5,35,24,37.2,21,37.5,18.5,39,16,41.5,13.8,43.3,12.4,43.3,11.9,45,10.5,48,11.2,51.2,11.8,51,10.4,49.5,6.5,47.8,4.3,45,1.8,42,-1,40,-3.5,39.2,-5,39.3,-8,40.5,-10.5,40.5,-15,37,-17.5,35,-20,35.5,-24,32.8,-25.8,32.5,-28.5,31,-29.8,28,-33,25.5,-34,22,-34.3,20,-34.8,18.4,-34.2,18.2,-32,17,-29,15.2,-27,14.5,-22.5,12,-18,11.8,-15.5,13.5,-12,13.2,-8.8,12.2,-6,11.8,-4,9,-1,9.5,1,9.7,3.5,8.5,4.5,6,4.3,4.5,6.3,2,6.3,-1,5.1,-3,5.1,-7.5,4.4,-9.5,5.5,-12,7.3,-13.3,9,-15,11,-16.7,12.4,-17.3,14.7,-16.5,16.2,-16.2,19,-17,21,-16,23.7,-14.5,26,-13,27.8,-10,29.5,-9.8,31.5,-8.5,33.3,-6,35.8,-5.4,35.9,-2,35.1,1,36.5,5,36.8,10,37.2,11,36.8,10.5,35.5,11,34,10.2,33.7,12,32.8,15.3,32.3,19,30.3,20,31.5,20,32.5,23,32.6,25,31.8,29,30.9,32.3,31.2],
[49.3,-12,50.5,-15.5,49.5,-17.5,48,-23,47,-25,45,-25.5,43.7,-23,43.3,-21.5,44.4,-18,44,-16.5,47,-15.5,48,-13.5,49.3,-12],
[31.8,-1,33,0.3,34,-0.3,34,-2.5,32.5,-2.7,31.8,-1],
[29.3,-3.4,29.5,-6,30.5,-8.7,31,-8.5,30.2,-6,29.6,-3.4],
[34.3,-9.5,34.7,-12,35.2,-14.3,34.6,-12.5,34.3,-9.5],
[32.6,29.9,32.3,31.2,34.2,31.3,34.9,32.8,35.9,35.1,36,36.7,34.5,36.8,32.5,36.1,30.5,36.5,28,36.7,27.3,37.5,26.5,38.5,26.3,40,26.7,40.5,25,40.9,23.8,40.7,23.5,40.2,22.6,40.5,22.9,39.3,24,38.2,23,37.9,22.8,37,22.5,36.4,21.7,36.8,21.1,37.8,20.7,38.9,20.2,39.6,19.4,41.8,18.5,42.5,16,43.5,14,45.2,13.5,45.7,12.3,45.2,12.5,44,13.6,43.5,14.5,42,16.2,41.5,18.5,40.2,17.2,40.5,16.6,38.9,16.1,38,15.6,38.2,16,39.5,15,40.2,13,41.3,11.2,42.4,10.2,43.9,8.8,44.4,7.5,43.8,6,43.1,4.5,43.4,3.1,43,3.2,41.9,0.8,41,0,39.7,-0.3,38.5,-1.5,37.5,-2.5,36.7,-4.5,36.7,-5.6,36,-6.3,36.8,-9,37,-9.5,38.7,-8.8,40.5,-8.8,42.2,-9.3,43,-7.5,43.7,-2,43.4,-1.3,44.5,-1.2,46,-2.2,47.2,-4.5,47.9,-4.7,48.5,-1.5,48.7,-1.8,49.7,0.2,49.6,1.6,50.9,3,51.3,4.5,52,5,53.3,7,53.5,8.5,54,8.5,55.5,8.2,56.8,10.5,57.6,10.5,56.4,10,55,11,54,12,54.2,14,54,18,54.8,19.5,54.4,21,55.5,21,57,23.5,57.1,24.3,57.3,23.5,58.5,24.5,59.4,28,59.5,30,60,28,60.5,22.5,60,21.3,61,21.5,63.5,25,65,24,65.8,22.5,65.8,21.5,64.5,19,63.5,17.5,62.5,17.2,61,18.7,60,18,59,16.5,57,16,56.2,14.2,55.4,12.8,55.8,12.5,56.5,11.8,58,11,59,10.5,59.8,10,59,8,58.1,6,58.2,5.5,59.3,5,61,5.2,62.5,8,63.5,10,64.5,12.5,66.3,14,67.8,16,68.8,19,70,23,70.6,26,71,28,70.9,31,70.2,33,69.4,36,69,40,67.8,41.5,66.5,44,66.2,44.2,68.5,46,68,53,68.5,55,68.3,58,68.9,60,68.4,61,69.8,66,69.3,68.5,68.2,67,70.5,69,72.8,72.5,72.8,72.8,70.5,73.5,68.5,74.5,69,73.5,71.2,77,72.3,80,72.4,80.5,73.6,87,74,86,75,90,75.6,97,76.1,100,76.5,104,77.7,107,77,111,76.7,113.5,76.2,113,73.8,118,73.5,124,73.7,128,73,129,71.3,132,71.6,135,71.5,139,71.5,141,72.7,146,72.4,150,71.6,153,70.8,158,71,160,70,166,69.5,170,70,176,69.8,180,69],
[-180,68.9,-175,67.5,-171,66.5,-172.5,64.5,-176,65,-180,65],
[180,65,178,64.5,177,62.5,173,61.5,170,60,164,59.8,163,57.8,162,56,160.5,54,158.5,52.7,156.7,51,156,53,155.7,56,156.8,57.8,158.5,58,161.5,60.3,160,61.5,154,59.3,151,59.2,147,59.3,143,59.3,140.7,58.2,138,56.3,136,54.5,139,54.1,141,53,140.5,50,140.5,48.5,138,46,135,43.3,133,42.8,131,42.6,130,42.3,129.5,40.8,128,39.5,129.3,37.5,129.4,35.5,127,34.7,126.3,35.5,126.5,37.7,125.2,37.8,125,39.6,121.5,39,122.2,40.5,121,40.9,119,39.5,118,39.2,117.7,38.5,118.8,37.5,120.8,37.8,122.5,37,120.5,36,119.3,35,120.5,33,121.8,31.7,121,30.5,122,29.8,121.5,28.3,120.5,27.2,119.5,25.6,118,24.4,116.5,23,114,22.3,112,21.7,110.5,21.2,109.7,21.5,108,21.6,106.7,20.5,105.8,19,106.5,17.5,108,16,109.2,13,109.2,11.5,107,10.4,105,8.7,105,10,104.5,10.5,101,12.7,100,13.5,99.2,10,100.3,8.3,101.5,6.8,103.4,4.5,104.2,1.4,103.5,1.3,101.3,2.8,100.3,5.3,98.5,8,98.3,10,98.5,13.5,97.7,16.5,96,16.7,94.3,16,94.5,18.5,92.5,20.8,91.8,22.3,89,21.8,87,21.5,86.5,20,85,19.3,82.3,16.6,80.2,15,80.2,13.2,79.9,10.3,78.5,8.9,77.5,8,76.5,9,75.8,11.5,74.6,14,73.4,16,72.8,19,72.6,21.5,70.5,20.8,69,22.3,68.5,23.6,66.8,24.8,64,25.3,61.5,25.2,57.3,25.7,56.5,27.1,54.5,26.6,52,27.8,50.2,29.9,48.8,30.4,48,29.6,48.5,28.5,49.5,27,50.2,26,50.8,24.8,51.5,24.2,53.5,24,55.5,25.4,56.3,26.3,56.2,24.5,57.5,23.7,59.8,22.4,58.8,21,57.8,19.2,56.5,18,55,17,52,15.7,49,14.3,45,12.8,43.5,12.7,42.7,15,42.5,16.6,41.2,19,39.3,21.6,38.5,23.8,37.2,25.8,35.3,28,34.9,29.5,34.3,28.2,33.6,28.4,32.6,29.9],
[29,41.2,31.5,41.2,35,42,38,41,41.5,41.5,41.7,42.7,40,43.5,38,44.7,37.5,45.5,35,45,33.5,44.5,32.5,45.5,31,46.6,30,45.8,29.6,45,28.6,44,28,42,29,41.2],
[47,44.8,49,46.5,51,47,53,46.8,53.2,45,51,44.5,52.5,42,53,40,54,37.5,51.5,36.8,49,37.6,49.5,40.5,48.5,42,47.5,43.5,47,44.8],
[58.5,46,61,45.5,60,44,58.5,45,58.5,46],
[104,51.6,106,52.8,108.5,54,109.5,55.7,109,55,106.5,52.2,104,51.6],
[-5.7,50.1,-3.5,50.3,-1,50.7,1.4,51.2,1.7,52.7,0.2,53.4,-0.3,54,-1.6,55.6,-2.5,56.2,-1.8,57.6,-3.5,57.7,-3,58.6,-5,58.6,-6.2,57.5,-5.6,56.3,-5,55,-3.2,54.9,-3.4,54.3,-3,53.3,-4.5,53.4,-4.2,52.4,-5.2,51.7,-3.2,51.4,-4.5,51.1,-5.7,50.1],
[-6,52.2,-6.2,53.9,-5.5,54.5,-7.3,55.3,-8.5,54.5,-10,54.2,-9.5,53,-10.3,51.8,-8.5,51.6,-6,52.2],
[-24,65.5,-22,66.4,-18.5,66.2,-14.7,66.2,-13.5,65,-15,64.3,-18.5,63.4,-22.5,63.8,-24,65.5],
[11,78.5,16,80,22,80.4,27,80,21,78.5,17,76.6,14,77.5,11,78.5],
[51.5,71.5,55,73,57,75.5,63,76.3,68.5,76.8,62,75,56,72.5,54,71,51.5,71.5],
[96,80.3,101,79.6,104,78.8,100,78,95,79,96,80.3],
[137,75.5,142,75.8,149,75.3,143,73.5,139,74,137,75.5],
[45,80.5,55,81.5,64,81,58,80,45,80.5],
[12.4,37.8,15.6,38.3,15.1,36.7,12.4,37.8],
[8.4,40.9,9.8,40.9,9.6,39,8.5,39,8.4,40.9],
[9.4,43,9.5,41.4,8.6,41.9,9.4,43],
[32.3,35,34.6,35.6,33.5,34.7,32.3,35],
[23.5,35.3,26.3,35.2,24.5,35,23.5,35.3],
[130.9,34.3,132.5,35.5,135.5,35.6,136.8,37.3,139.5,38.2,140,40.5,141.5,41.4,142,39.5,141,38.3,140.9,36.9,140.3,35.2,139.2,35.2,138.5,34.6,137,34.6,136.6,34.2,135.2,33.9,135.1,34.6,133,34.3,130.9,34.3],
[129.8,33.2,130.6,31.3,131.4,31.5,132,33.8,130.8,33.9,129.8,33.2],
[140,41.5,141.2,41.8,143.5,42,145.5,43.3,144.8,44,142,45.4,141.7,43.5,140.3,43.3,140,41.5],
[142,46,143.5,49,143,54,142.5,54.3,142,51.5,142,46],
[120.2,22.6,121,25.2,122,25,121,22,120.2,22.6],
[108.7,19,110.5,20.1,111,19.6,109.5,18.2,108.7,19],
[120.5,18.5,122.2,18.5,122,16.5,121.5,15,124,12.8,123.8,13.8,121.5,13.9,120.6,14.5,120,16.3,120.5,18.5],
[122,7,123.5,8.6,125.5,9.8,126.5,7.5,126,6.3,125,5.7,124,7,122,7],
[122.5,10.5,124,11.5,125.5,11,124,9.8,122.5,10.5],
[95.3,5.6,98,4,100.4,2,102,0.5,104.5,-1.8,106,-3.2,105.8,-5.8,104.5,-5.9,102.3,-4,101,-2.5,100.3,-0.8,99,0.7,98.6,1.8,97,3,95.3,5.6],
[105.2,-6.8,108,-6.3,110.5,-6.9,112.8,-7,114.5,-7.7,114.5,-8.6,111,-8.3,108,-7.7,106,-7.2,105.2,-6.8],
[116,-8.7,119,-8.6,122.5,-8.3],
[123.5,-10.2,127,-8.5,126.5,-9,124.5,-10,123.5,-10.2],
[109,1.5,109.7,2,111,1.9,113,3.2,115.5,5.2,117,6.9,118.3,5.5,119,5,118,4.3,117.8,1,118.8,1,117.5,0,116.5,-2.3,116,-3.8,114.5,-3.8,113,-3.3,111,-3,110,-1.8,109,-0.5,109,1.5],
[118.9,-3.5,119.5,-0.8,120.5,0.8,124.8,1.4,123.5,0.6,120.6,0.3,121.5,-1,123.5,-0.8,122,-2.5,122.5,-4.5,121,-4.6,120.3,-2.8,120.5,-5.5,119.5,-5.5,118.9,-3.5],
[131,-1.2,134,-0.8,135.5,-3.2,138,-1.6,141,-2.6,144.5,-3.8,146,-5.5,147.5,-6,148,-8,150.5,-10.2,148,-10.1,146,-8,144.5,-7.6,143.5,-9,141,-9.1,139,-8.1,138,-8.3,137.8,-5.5,135,-4.4,133,-4,132,-2.8,133.5,-2.4,131.5,-1.5,131,-1.2],
[148.5,-5.5,150,-5.3,152,-4.2,151.5,-5.5,150,-6.3,148.5,-5.5],
[79.8,6.5,80,9.8,81.8,7.5,81,6,79.8,6.5],
[114,-22,114.2,-26,115,-30,115.7,-33.5,115,-34.3,117.8,-35.1,120,-34,123.5,-33.9,126,-32.3,129,-31.7,131.2,-31.5,134,-32.8,135.6,-34.8,137.5,-33,137.8,-35.5,140,-37.5,141.6,-38.4,144,-38.2,146.3,-39.1,148,-37.8,150,-37.5,150.8,-34.8,151.5,-33,153,-31,153.5,-28,153.2,-25,151,-23.5,149.5,-22.3,148.8,-20.4,146.3,-18.9,145.3,-15,143.5,-14,142.5,-10.7,141.6,-12.9,141.5,-16.5,140.8,-17.5,139.5,-17.5,137.7,-16,135.5,-14.8,136.9,-12.3,135.5,-12,132.5,-11.5,131,-12.2,130,-13,129.5,-15,127.8,-14.3,125.5,-14.5,123.5,-16.5,122,-18.3,121,-19.5,118.8,-20.3,116.7,-20.6,114.6,-21.8,114,-22],
[144.6,-40.7,148.3,-40.9,148,-43.2,146.8,-43.6,145.2,-42.3,144.6,-40.7],
[172.7,-34.4,174.5,-36.5,175.8,-37,178.5,-37.7,177.9,-39.2,176.9,-39.5,176,-41.4,174.6,-41.3,175,-39.9,173.8,-39.2,174.5,-38,174,-36.5,172.7,-34.4],
[172.7,-40.5,174.3,-41.6,173.2,-43,172.8,-43.8,171.2,-44.5,170.6,-45.9,169,-46.7,166.5,-46,166.8,-45.2,168.3,-44,170.5,-43,172,-41.5,172.7,-40.5],
[-180,-78,-170,-78.3,-160,-78.8,-155,-78,-150,-77,-145,-75.8,-140,-75,-135,-74.3,-130,-74.2,-125,-73.8,-120,-74,-115,-74.2,-110,-74.5,-105,-74.3,-100,-73.5,-95,-73,-90,-72.8,-85,-73.3,-80,-73,-76,-72,-74,-71,-72,-70,-68,-69,-67.5,-67.5,-65.5,-65.5,-63,-64.5,-60,-63.5,-57,-63.3,-57.5,-64.5,-60,-65.5,-61.5,-67,-62.5,-69,-62,-71,-61,-73,-62,-74.5,-66,-75.5,-70,-76.5,-75,-77.5,-62,-77.5,-55,-78,-50,-77.8,-45,-78,-35,-77.8,-30,-76.5,-25,-75.5,-20,-74,-15,-73,-10,-71.5,-5,-71,0,-70.5,5,-70.3,10,-70,15,-70,20,-70,25,-70.2,30,-69.8,35,-69.5,40,-69,45,-68,50,-67,55,-66.5,60,-67.3,65,-67.8,70,-68.5,72,-70,75,-69.5,78,-68.5,80,-67.5,85,-66.8,90,-66.5,95,-66.3,100,-66,105,-66,110,-66.2,115,-66.8,120,-66.5,125,-66.5,130,-66.2,135,-66,140,-66.7,145,-67.3,150,-68.3,155,-69,160,-70,165,-70.8,170,-71.5,170.5,-72.5,169,-73.5,166,-74.5,163,-76.5,164,-77.5,168,-78,175,-78.2,180,-78]
];
var s='';
for(var k=0;k<D.length;k++){var a=D[k];for(var i=0;i+1<a.length;i+=2){var p=P(a[i],a[i+1]);s+=(i?'L':'M')+p[0].toFixed(1)+','+p[1].toFixed(1);}}
document.getElementById('coast').setAttribute('d',s);
})();
</script>
</body></html>
